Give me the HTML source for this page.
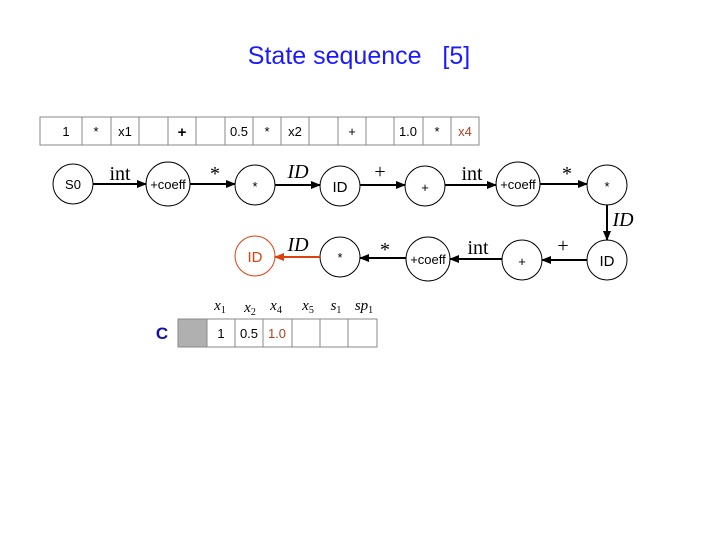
<!DOCTYPE html>
<html><head><meta charset="utf-8"><style>
body{margin:0;background:#fff;}
</style></head><body>
<svg width="720" height="540" viewBox="0 0 720 540" xmlns="http://www.w3.org/2000/svg" font-family="Liberation Sans, sans-serif">
<defs>
<marker id="a" markerWidth="10" markerHeight="8" refX="9" refY="4" orient="auto" markerUnits="userSpaceOnUse"><path d="M0,0 L10,4 L0,8 z" fill="#000"/></marker>
<marker id="r" markerWidth="10" markerHeight="8" refX="9" refY="4" orient="auto" markerUnits="userSpaceOnUse"><path d="M0,0 L10,4 L0,8 z" fill="#e04010"/></marker>
</defs>
<text x="359" y="64" font-size="25" fill="#1a1aff" text-anchor="middle" style="white-space:pre" xml:space="preserve">State sequence   [5]</text>
<g stroke="#888" fill="none">
<rect x="40" y="117" width="439" height="28"/>
<path d="M82 117V145M111 117V145M139 117V145M168 117V145M196 117V145M225 117V145M253 117V145M281 117V145M309 117V145M338 117V145M366 117V145M394 117V145M423 117V145M451 117V145"/>
</g>
<g font-size="13" text-anchor="middle">
<text x="66" y="136">1</text><text x="96" y="136">*</text><text x="125" y="136">x1</text>
<text x="182" y="137" font-weight="bold" font-size="15">+</text>
<text x="239" y="136">0.5</text><text x="267" y="136">*</text><text x="295" y="136">x2</text>
<text x="352" y="136">+</text><text x="408" y="136">1.0</text><text x="437" y="136">*</text>
<text x="465" y="136" fill="#b04020">x4</text>
</g>
<g stroke="#000" stroke-width="1" fill="#fff">
<circle cx="73" cy="184" r="20"/><circle cx="168" cy="184" r="22"/><circle cx="255" cy="185" r="20"/><circle cx="340" cy="186" r="20"/>
<circle cx="425" cy="186" r="20"/><circle cx="518" cy="184" r="22"/><circle cx="607" cy="185" r="20"/>
<circle cx="340" cy="257" r="20"/><circle cx="428" cy="259" r="22"/><circle cx="522" cy="260" r="20"/><circle cx="607" cy="260" r="20"/>
<circle cx="255" cy="256" r="20" stroke="#e04010"/>
</g>
<g stroke="#000" stroke-width="2" marker-end="url(#a)">
<line x1="93" y1="184" x2="146" y2="184"/><line x1="190" y1="184" x2="235" y2="184"/><line x1="275" y1="185" x2="320" y2="185"/>
<line x1="360" y1="185" x2="405" y2="185"/><line x1="445" y1="185" x2="496" y2="185"/><line x1="540" y1="184" x2="587" y2="184"/>
<line x1="607" y1="205" x2="607" y2="240"/>
<line x1="587" y1="260" x2="542" y2="260"/><line x1="502" y1="259" x2="450" y2="259"/><line x1="406" y1="258" x2="360" y2="258"/>
</g>
<line x1="320" y1="257" x2="275" y2="257" stroke="#e04010" stroke-width="2" marker-end="url(#r)"/>
<g font-size="13" text-anchor="middle">
<text x="73" y="189">S0</text><text x="168" y="189">+coeff</text><text x="255" y="191">*</text><text x="340" y="192" font-size="15">ID</text>
<text x="425" y="192">+</text><text x="518" y="189">+coeff</text><text x="607" y="191">*</text>
<text x="340" y="262">*</text><text x="428" y="264">+coeff</text><text x="522" y="266">+</text><text x="607" y="266" font-size="15">ID</text>
<text x="255" y="262" font-size="15" fill="#e04010">ID</text>
</g>
<g font-family="Liberation Serif, serif" font-size="20" text-anchor="middle">
<text x="120" y="180">int</text><text x="215" y="180">*</text><text x="298" y="178" font-style="italic">ID</text>
<text x="380" y="178">+</text><text x="472" y="180">int</text><text x="567" y="180">*</text>
<text x="623" y="226" font-style="italic">ID</text>
<text x="563" y="252">+</text><text x="478" y="254">int</text><text x="385" y="256">*</text><text x="298" y="251" font-style="italic">ID</text>
</g>
<text x="162" y="339" font-size="17" font-weight="bold" fill="#1010b0" text-anchor="middle">C</text>
<rect x="178" y="319" width="29" height="28" fill="#b0b0b0" stroke="#888"/>
<g stroke="#888" fill="none"><rect x="207" y="319" width="170" height="28"/>
<path d="M235 319V347M263 319V347M292 319V347M320 319V347M348 319V347"/></g>
<g font-size="13" text-anchor="middle"><text x="221" y="338">1</text><text x="249" y="338">0.5</text><text x="277" y="338" fill="#b04020">1.0</text></g>
<g font-family="Liberation Serif, serif" font-style="italic" font-size="15" text-anchor="middle">
<text x="220" y="310">x<tspan font-size="10" font-style="normal" dy="3">1</tspan></text>
<text x="250" y="312">x<tspan font-size="10" font-style="normal" dy="3">2</tspan></text>
<text x="276" y="310">x<tspan font-size="10" font-style="normal" dy="3">4</tspan></text>
<text x="308" y="310">x<tspan font-size="10" font-style="normal" dy="3">5</tspan></text>
<text x="336" y="310">s<tspan font-size="10" font-style="normal" dy="3">1</tspan></text>
<text x="364" y="310">sp<tspan font-size="10" font-style="normal" dy="3">1</tspan></text>
</g>
</svg>
</body></html>
